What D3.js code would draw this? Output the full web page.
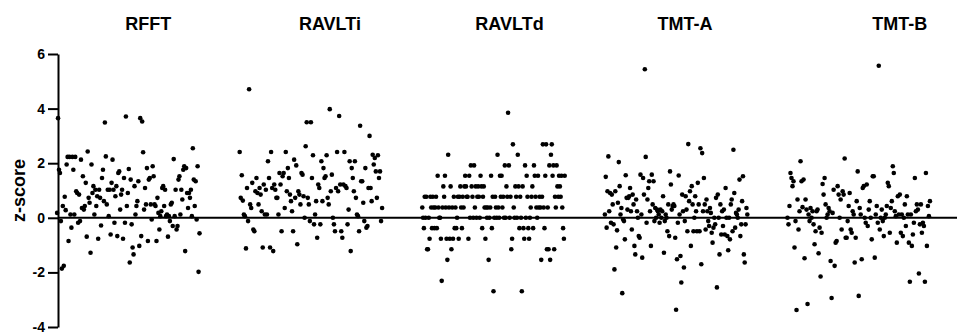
<!DOCTYPE html>
<html><head><meta charset="utf-8">
<script src="https://cdn.jsdelivr.net/npm/d3@7/dist/d3.min.js"></script>
<style>
html,body{margin:0;padding:0;background:#fff;}
svg{display:block;}
text{font-family:"Liberation Sans",Arial,Helvetica,sans-serif;font-weight:bold;fill:#000;}
</style></head>
<body>
<svg id="chart" width="957" height="332"></svg>
<script>
// ---- data (values read left-to-right within each group) ----
const categories = ["RFFT", "RAVLTi", "RAVLTd", "TMT-A", "TMT-B"];
const yTicks = [-4, -2, 0, 2, 4, 6];

const rfft = [0.18,3.65,1.76,1.64,-0.12,-1.86,0.43,-1.76,0.77,0.28,1.95,2.23,-0.85,2.23,0.12,-0.36,2.23,1.76,0.12,2.23,0.97,0.91,-0.18,0.85,-0.12,2.13,0.36,1.52,0.30,0.43,1.28,-0.69,2.43,0.73,0.55,-1.28,1.95,0.91,1.16,0.12,1.03,0.43,0.79,-0.77,1.03,0.73,-0.28,1.46,1.76,0.61,3.49,2.25,0.49,1.03,0.06,1.03,-0.61,1.28,2.13,1.03,-0.18,0.79,1.16,-0.67,1.64,1.70,0.30,0.85,1.03,-0.77,1.46,-0.18,3.71,0.43,0.91,1.79,-1.64,1.40,-0.24,-1.09,-1.34,1.16,0.12,0.43,0.61,1.34,-1.03,3.65,-0.67,3.53,2.40,0.30,1.09,0.49,1.82,-0.85,1.40,1.46,0.49,-0.06,1.89,1.52,0.49,0.43,-0.85,0.73,0.18,-0.43,0.06,0.24,1.09,1.16,0.43,1.03,0.06,0.12,-0.69,0.06,-0.12,0.49,0.55,-0.30,2.15,0.06,1.03,-0.43,-0.30,1.40,1.52,0.12,1.03,0.67,1.76,1.89,-1.22,1.82,0.91,0.36,0.91,0.73,1.03,0.06,2.55,1.40,0.43,1.34,-0.06,1.89,-1.98,-0.57];

const ravltI = [2.41,0.73,1.56,0.63,0.12,0.06,-1.12,1.09,-0.12,4.71,0.49,0.36,1.28,-0.43,-0.49,0.97,1.46,0.91,0.49,1.09,0.85,0.24,-1.09,1.22,0.12,1.03,0.12,2.07,1.46,-1.09,2.41,1.09,-1.22,1.22,1.03,0.73,0.73,0.12,1.64,1.22,-0.49,1.52,1.64,0.36,2.41,0.97,1.82,1.46,0.85,0.61,0.24,-0.49,2.13,0.73,1.92,-0.97,0.97,0.85,0.49,1.64,1.58,0.79,0.00,2.62,3.50,0.73,0.49,-0.12,3.50,1.46,2.29,-0.24,0.12,0.61,-0.73,1.22,1.09,-0.24,2.07,0.61,1.82,1.46,1.52,2.29,0.73,0.49,3.98,0.97,1.58,0.00,-0.24,-0.49,1.09,2.41,0.97,3.73,1.22,-0.49,-0.73,1.22,2.41,1.16,1.09,-0.24,0.30,2.07,-1.22,1.82,1.46,0.97,2.07,0.73,0.12,0.06,-0.49,3.37,1.34,1.34,0.55,-0.12,1.82,-0.36,-0.30,1.09,3.00,1.09,0.61,2.31,1.95,2.19,1.70,0.73,2.29,1.46,1.70,-0.12,0.36];

const ravltD = [0.38,0,-0.38,0.77,0,0.77,-1.15,-1.15,0,-0.77,0.77,0.38,-0.38,0.77,0.38,-0.38,0.38,0.77,-0.38,1.54,0.38,0,0,-0.77,-2.31,0.38,1.15,0.77,1.54,0.38,-0.77,-1.54,2.31,0.38,-0.77,1.15,-1.15,0.38,-0.77,0.77,-0.38,0.38,-0.38,0,0.77,-0.77,0.77,1.15,0.38,-0.38,0.77,0.38,1.15,1.54,1.15,0.77,0.77,-0.77,1.54,0,1.92,1.15,0.77,0,1.92,0.38,1.15,0,0.77,1.15,0.77,0,1.54,1.15,-0.38,0.77,1.15,0.38,-0.77,0.38,0,0.38,-1.54,0,0.38,1.54,-0.38,0.77,-2.69,0,0.77,0.38,0,2.31,0.38,0,1.54,0.77,1.54,0.38,0.77,0,1.92,0,1.15,0.77,3.85,1.92,0,0.77,-1.15,-0.77,2.69,0.38,0,1.15,0.77,0,2.31,1.15,-0.38,0.77,0,-2.69,1.15,-0.38,-0.77,1.92,0,1.54,0.77,-0.38,-0.77,0,0.38,0.77,1.15,-0.38,1.92,1.54,0.77,0.38,0,1.54,0.38,0.77,0.38,-1.54,0.77,2.69,0.38,-0.38,1.54,2.69,-1.15,0.38,-1.15,1.92,-1.54,2.31,2.69,1.54,1.92,-1.15,0.77,0.38,1.92,1.15,0.77,1.54,1.15,0.77,1.54,0.38,-0.38,-0.77,1.54];

const tmtA = [0.12,1.50,-0.36,0.97,2.25,0.24,0.91,-0.18,0.85,0.49,-0.24,-1.89,0.97,-1.09,-0.46,0.55,2.04,1.16,0.12,0.36,-2.76,-0.06,-0.12,-0.79,1.56,0.73,0.30,0.73,0.79,1.09,0.24,-0.43,0.85,0.49,-1.03,-1.34,0.67,0.24,0.00,-0.67,-0.73,1.58,0.12,-1.46,1.46,0.85,5.44,2.23,-0.18,0.67,1.09,1.34,0.24,-1.03,1.58,0.49,1.34,-0.12,0.36,0.00,0.30,0.24,0.12,-0.18,0.30,0.00,0.24,0.79,-1.28,-0.12,0.12,0.00,-0.49,0.49,-0.67,1.70,1.22,0.30,0.43,0.49,0.43,-0.73,-3.37,-1.52,-0.18,1.55,0.12,-1.40,-2.37,0.85,0.24,-1.82,-0.12,0.79,0.30,-0.49,2.70,0.61,0.97,-1.03,1.16,0.49,-0.49,0.00,0.79,0.24,-0.49,1.28,0.49,-0.49,2.55,-1.70,2.37,0.24,1.46,0.49,-0.43,0.67,0.24,-0.12,-0.30,0.36,0.18,-0.55,-0.91,-0.36,0.00,-0.24,0.73,-2.55,0.85,0.00,-1.34,0.49,-0.61,0.24,-0.30,0.30,-0.61,1.09,0.00,-0.67,-1.19,0.00,-0.79,0.49,0.67,-0.49,2.49,0.91,-0.36,0.18,0.12,0.00,0.30,1.40,-0.67,-0.24,0.61,1.52,-1.34,-1.64,-0.24,0.36,0.12];

const tmtB = [0.00,-0.24,0.43,1.64,1.46,1.16,1.34,-1.09,-0.12,-3.38,0.67,-0.43,0.24,2.07,1.34,0.39,1.40,-1.48,0.67,0.30,-3.16,0.12,-0.12,0.36,0.00,0.24,-0.24,-0.97,-0.49,0.24,0.30,-1.30,-0.36,-2.15,-0.55,1.24,0.85,1.46,0.49,0.00,0.12,0.36,0.24,-1.58,-2.94,0.18,1.03,-1.76,-0.91,-0.85,1.16,0.85,0.00,0.67,-0.43,0.97,0.85,2.17,-0.73,-0.73,-0.12,0.43,0.91,-0.43,-0.55,0.24,0.12,-1.64,-0.73,0.61,1.70,-2.86,0.36,0.12,-1.52,1.09,1.16,0.00,-0.18,1.22,-0.30,0.30,0.61,0.00,-0.79,1.52,1.52,-1.46,0.12,0.43,-0.18,5.57,-0.43,0.00,0.30,-0.12,-0.67,0.00,0.12,0.43,1.28,1.16,-0.55,0.36,0.61,1.89,1.64,0.24,0.06,-0.91,0.79,0.12,0.85,-0.55,0.12,-0.67,0.00,0.49,-0.30,0.79,0.12,-0.91,-2.34,0.12,-1.03,-0.61,-0.18,1.46,0.24,0.49,0.30,-2.04,-0.24,0.49,-0.55,-0.18,-0.30,-2.34,1.64,-1.03,0.43,0.06,0.61];

const seriesValues = [rfft, ravltI, ravltD, tmtA, tmtB];

// ---- layout ----
const W = 957, H = 332;
const axisX = 58;
const titleShift = [20, 19, 16, 9, 41];

const svg = d3.select("#chart");

const y = d3.scaleLinear().domain([-4, 6]).range([327, 54]);
const x = d3.scaleBand().domain(categories).range([37, 950]).paddingInner(0.22).paddingOuter(0.11);

// zero line
svg.append("line")
  .attr("x1", axisX).attr("x2", W)
  .attr("y1", y(0)).attr("y2", y(0))
  .attr("stroke", "#000").attr("stroke-width", 2);

// y axis
const yAxis = d3.axisLeft(y).tickValues(yTicks).tickSize(10).tickSizeOuter(0).tickPadding(3)
  .tickFormat(d => String(d));
const gy = svg.append("g").attr("transform", `translate(${axisX},0)`).call(yAxis);
gy.select(".domain").attr("stroke", "#000").attr("stroke-width", 2);
gy.selectAll(".tick line").attr("stroke", "#000").attr("stroke-width", 2);
gy.selectAll(".tick text").attr("font-size", 14).attr("font-weight", "bold")
  .attr("font-family", '"Liberation Sans",Arial,sans-serif').attr("fill", "#000");

// y label
svg.append("text")
  .attr("transform", `translate(25,${y(1)}) rotate(-90)`)
  .attr("text-anchor", "middle")
  .attr("font-size", 18)
  .text("z-score");

// titles
svg.selectAll(".title").data(categories).enter().append("text")
  .attr("class", "title")
  .attr("x", (d, i) => x(d) + x.bandwidth() / 2 + titleShift[i])
  .attr("y", 30)
  .attr("text-anchor", "middle")
  .attr("font-size", 18)
  .text(d => d);

// points
categories.forEach((cat, ci) => {
  const vals = seriesValues[ci];
  const xi = d3.scaleLinear().domain([0, vals.length - 1]).range([x(cat), x(cat) + x.bandwidth()]);
  svg.append("g").selectAll("circle").data(vals).enter().append("circle")
    .attr("cx", (d, i) => xi(i))
    .attr("cy", d => y(d))
    .attr("r", 2.3)
    .attr("fill", "#000");
});
</script>
</body></html>
